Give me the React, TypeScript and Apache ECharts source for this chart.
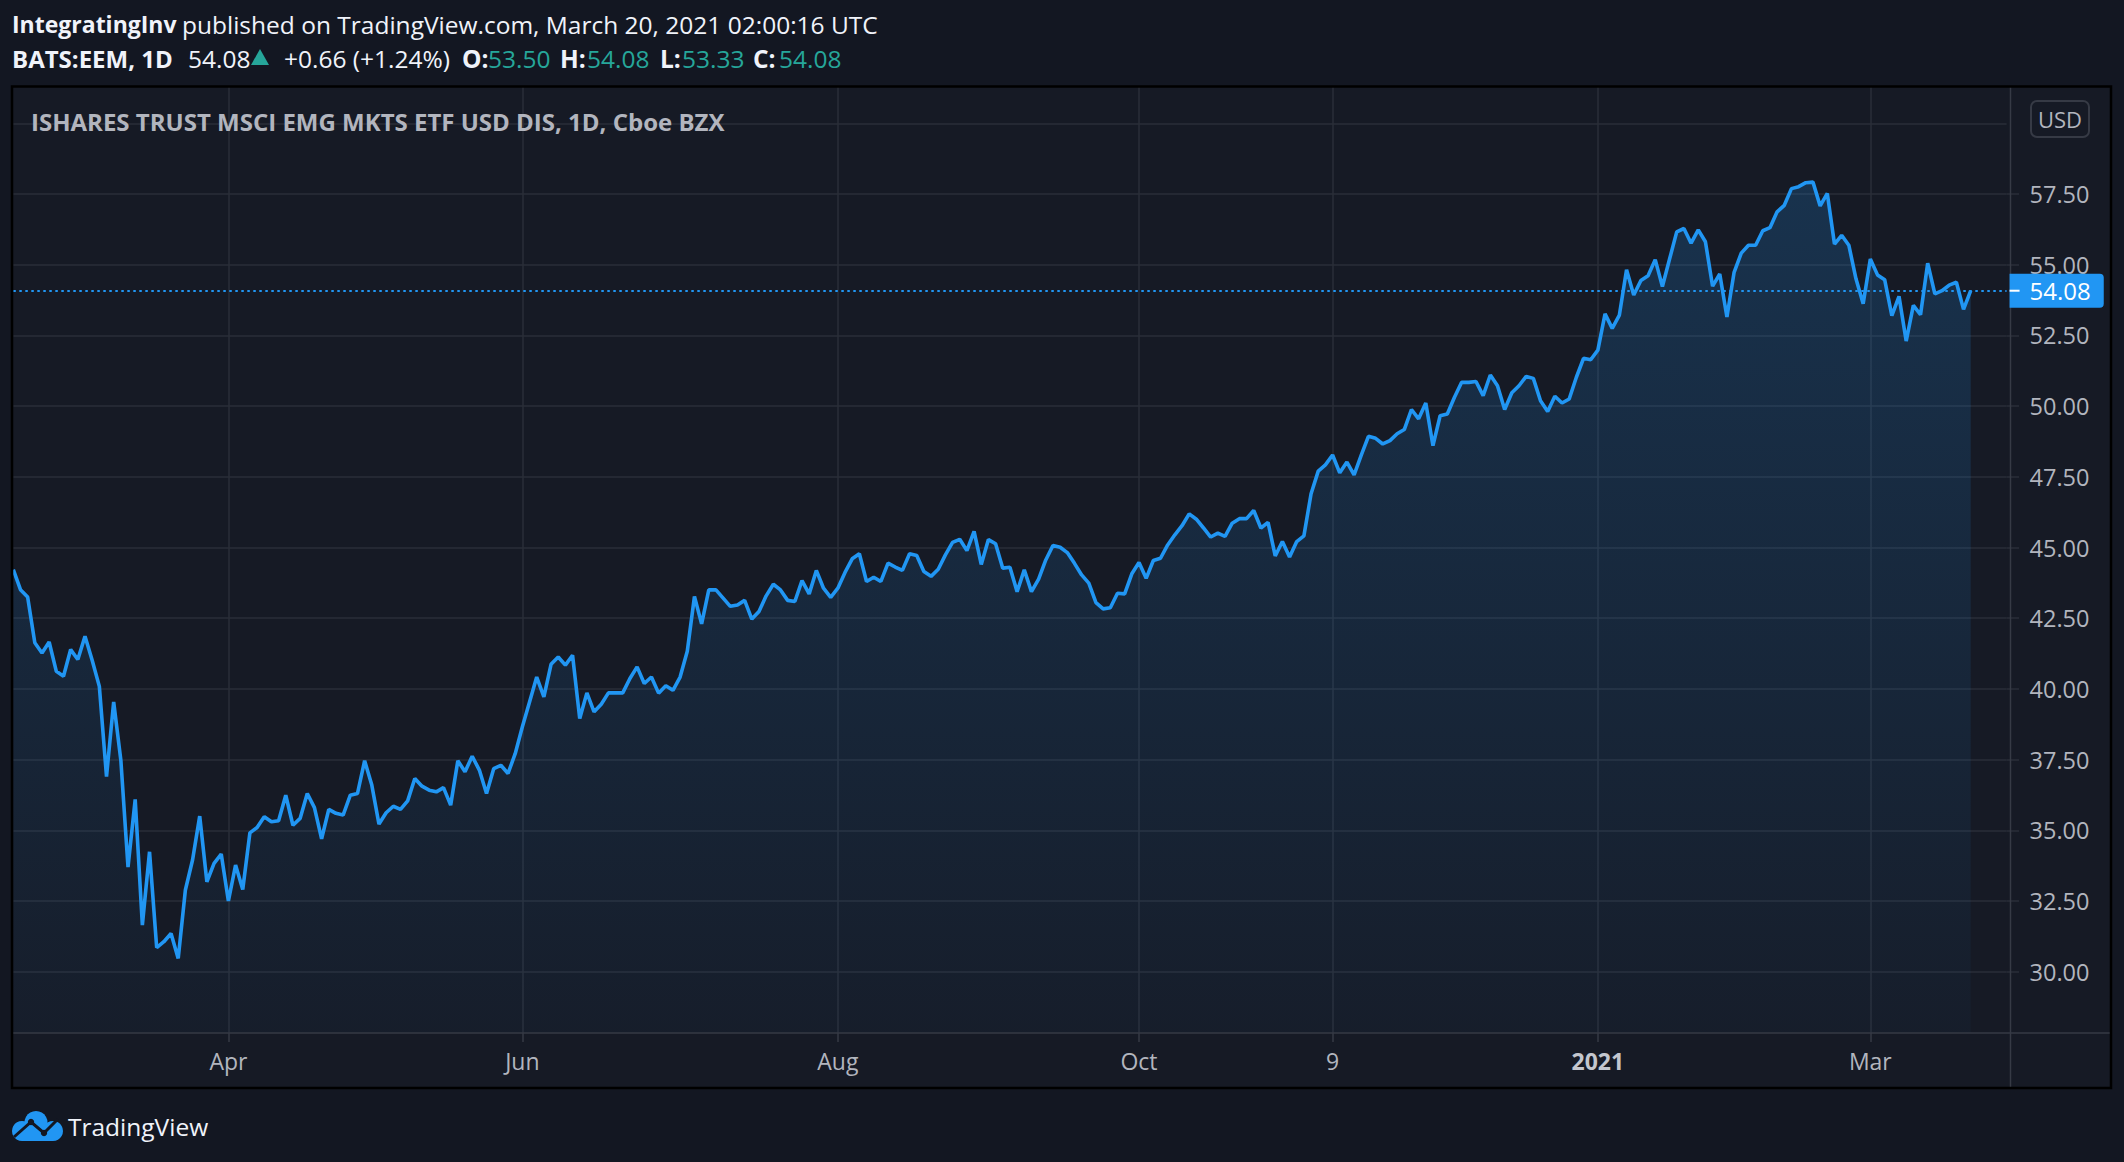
import React, { useEffect, useRef } from "react";
import * as echarts from "echarts";

// ---- data ----
const holidays = [
  "2020-04-10", "2020-05-25", "2020-07-03", "2020-09-07", "2020-11-26",
  "2020-12-25", "2021-01-01", "2021-01-18", "2021-02-15",
];
const firstDay = "2020-02-19";
const lastSlot = "2021-03-26"; // a few empty future slots on the right

const closes = [
  44.22, 43.51, 43.25, 41.63, 41.27, 41.66, 40.62, 40.45, 41.39, 41.04,
  41.86, 41.01, 40.09, 36.9, 39.54, 37.48, 33.7, 36.09, 31.65, 34.24,
  30.85, 31.06, 31.35, 30.47, 32.89, 33.95, 35.5, 33.18, 33.83, 34.16,
  32.5, 33.77, 32.91, 34.91, 35.1, 35.48, 35.3, 35.34, 36.24, 35.18,
  35.42, 36.3, 35.8, 34.7, 35.74, 35.6, 35.54, 36.24, 36.3, 37.46,
  36.6, 35.22, 35.62, 35.85, 35.74, 36.04, 36.83, 36.56, 36.42, 36.36,
  36.51, 35.89, 37.46, 37.07, 37.62, 37.13, 36.3, 37.18, 37.3, 37.01,
  37.71, 38.66, 39.54, 40.42, 39.72, 40.87, 41.13, 40.84, 41.19, 38.95,
  39.86, 39.19, 39.46, 39.86, 39.86, 39.86, 40.37, 40.78, 40.19, 40.42,
  39.85, 40.11, 39.95, 40.42, 41.33, 43.27, 42.3, 43.5, 43.5, 43.21,
  42.92, 42.97, 43.13, 42.47, 42.74, 43.29, 43.7, 43.5, 43.13, 43.09,
  43.83, 43.36, 44.19, 43.56, 43.24, 43.56, 44.12, 44.6, 44.78, 43.8,
  43.95, 43.8, 44.45, 44.31, 44.19, 44.78, 44.72, 44.15, 43.98, 44.23,
  44.74, 45.18, 45.29, 44.89, 45.57, 44.4, 45.28, 45.13, 44.27, 44.3,
  43.44, 44.21, 43.44, 43.88, 44.56, 45.07, 45.01, 44.82, 44.44, 44.03,
  43.74, 43.05, 42.83, 42.87, 43.38, 43.36, 44.07, 44.47, 43.91, 44.54,
  44.62, 45.09, 45.45, 45.77, 46.19, 46.0, 45.69, 45.37, 45.51, 45.39,
  45.86, 46.02, 46.02, 46.31, 45.69, 45.89, 44.7, 45.21, 44.66, 45.21,
  45.41, 46.9, 47.7, 47.92, 48.27, 47.64, 48.02, 47.57, 48.27, 48.93,
  48.86, 48.66, 48.78, 49.02, 49.17, 49.88, 49.55, 50.11, 48.6, 49.66,
  49.72, 50.31, 50.84, 50.84, 50.87, 50.37, 51.1, 50.72, 49.88, 50.47,
  50.72, 51.05, 50.98, 50.19, 49.81, 50.35, 50.11, 50.25, 51.02, 51.69,
  51.64, 51.98, 53.26, 52.75, 53.22, 54.82, 53.93, 54.44, 54.61, 55.18,
  54.23, 55.2, 56.16, 56.28, 55.76, 56.23, 55.81, 54.24, 54.67, 53.15,
  54.73, 55.41, 55.69, 55.69, 56.2, 56.31, 56.87, 57.1, 57.69, 57.76,
  57.9, 57.92, 57.08, 57.52, 55.73, 56.04, 55.69, 54.5, 53.62, 55.2,
  54.64, 54.47, 53.2, 53.88, 52.3, 53.56, 53.23, 55.05, 53.97, 54.08,
  54.28, 54.38, 53.42, 54.08,
];

const tickDates = ["2020-04-01", "2020-06-01", "2020-08-03", "2020-10-01", "2020-11-09", "2021-01-04", "2021-03-01"];
const tickLabels = ["Apr", "Jun", "Aug", "Oct", "9", "2021", "Mar"];

const priceMin = 30;
const priceMax = 60;
const priceStep = 2.5;
const plotFloor = 27.83; // value at the bottom edge of the pane

const author = "IntegratingInv";
const published = "published on TradingView.com, March 20, 2021 02:00:16 UTC";
const symbolName = "BATS:EEM, 1D";
const lastText = "54.08";
const changeText = "+0.66 (+1.24%)";
const ohlcKeys = ["O:", "H:", "L:", "C:"];
const ohlcVals = ["53.50", "54.08", "53.33", "54.08"];
const paneTitle = "ISHARES TRUST MSCI EMG MKTS ETF USD DIS, 1D, Cboe BZX";

function buildDays(start: string, end: string, skip: string[]): string[] {
  const out: string[] = [];
  const d = new Date(start + "T00:00:00Z");
  const e = new Date(end + "T00:00:00Z");
  while (d <= e) {
    const wd = d.getUTCDay();
    const s = d.toISOString().slice(0, 10);
    if (wd !== 0 && wd !== 6 && skip.indexOf(s) < 0) out.push(s);
    d.setUTCDate(d.getUTCDate() + 1);
  }
  return out;
}

const categories = buildDays(firstDay, lastSlot, holidays);

// ---- styling ----
const FONT = '"Open Sans", "Noto Sans", sans-serif';
const BG = "#131722";
const PANE = "#161a25";
const GRID = "#2a2e39";
const SEP = "#363a45";
const TXT = "#b2b5be";
const WHITE = "#f0f3fa";
const BLUE = "#2196f3";
const TEAL = "#26a69a";
const HF = 24.5; // header font size

const barStep = 7.17;
const gridLeft = 13.3;
const gridWidth = (categories.length - 1) * barStep;
const paneTop = 87;
const paneBottom = 1033;
const priceTop = 123.3;
const priceBottom = 971.7;

function txt(x: number, y: number, text: string, fill: string, bold = false, size = HF): any {
  return {
    type: "text", x, y, z: 10, silent: true,
    style: { text, fill, fontSize: size, fontWeight: bold ? "bold" : "normal", fontFamily: FONT, verticalAlign: "middle" },
  };
}

export default function App() {
  const ref = useRef<HTMLDivElement>(null);

  useEffect(() => {
    if (!ref.current) return;
    const chart = echarts.init(ref.current, null, { renderer: "svg" });
    const last = closes[closes.length - 1];
    const isTick = (_i: number, v: string) => tickDates.indexOf(v) >= 0;

    const ohlcKeyX = [462, 560, 660, 753];
    const ohlcValX = [488, 587, 682, 779];
    const headerEls: any[] = [
      txt(12, 24, author, WHITE, true, 23),
      txt(182, 24, published, WHITE),
      txt(12, 58, symbolName, WHITE, true, 24),
      txt(188, 58, lastText, WHITE),
      { type: "polygon", z: 10, silent: true, shape: { points: [[251, 65], [269, 65], [260, 49]] }, style: { fill: TEAL } },
      txt(284, 58, changeText, WHITE),
    ];
    ohlcKeys.forEach((k, i) => {
      headerEls.push(txt(ohlcKeyX[i], 58, k, WHITE, true));
      headerEls.push(txt(ohlcValX[i], 58, ohlcVals[i], TEAL));
    });

    const option: any = {
      animation: false,
      backgroundColor: BG,
      textStyle: { fontFamily: FONT },
      grid: [
        { left: gridLeft, top: paneTop, width: gridWidth, height: paneBottom - paneTop, containLabel: false },
        { left: gridLeft, top: priceTop, width: gridWidth, height: priceBottom - priceTop, containLabel: false },
      ],
      xAxis: [
        {
          type: "category",
          gridIndex: 0,
          data: categories,
          boundaryGap: false,
          axisLine: { show: false },
          axisTick: { show: true, interval: isTick, length: 9, lineStyle: { color: SEP, width: 1.5 } },
          splitLine: { show: true, interval: isTick, lineStyle: { color: GRID, width: 1.5 } },
          axisLabel: {
            interval: isTick,
            margin: 16,
            color: TXT,
            fontSize: 23,
            fontFamily: FONT,
            formatter: (v: string) => {
              const k = tickDates.indexOf(v);
              const t = k >= 0 ? tickLabels[k] : "";
              return /^\d{4}$/.test(t) ? "{y|" + t + "}" : t;
            },
            rich: { y: { fontWeight: "bold", fontSize: 23, color: "#c3c6ce", fontFamily: FONT } },
          },
          z: 1,
        },
        {
          type: "category",
          gridIndex: 1,
          data: categories,
          boundaryGap: false,
          show: false,
        },
      ],
      yAxis: [
        { type: "value", gridIndex: 0, min: 0, max: 1, show: false, splitLine: { show: false } },
        {
          type: "value",
          gridIndex: 1,
          position: "right",
          min: priceMin,
          max: priceMax,
          interval: priceStep,
          axisLine: { show: false },
          axisTick: { show: true, length: 12.5, lineStyle: { color: GRID, width: 1.5 } },
          splitLine: { show: true, lineStyle: { color: GRID, width: 1.5 } },
          axisLabel: {
            showMaxLabel: false,
            margin: 23,
            color: TXT,
            fontSize: 23.5,
            lineHeight: 17,
            fontFamily: FONT,
            formatter: (v: number) => v.toFixed(2),
          },
        },
      ],
      series: [
        {
          type: "line",
          xAxisIndex: 1,
          yAxisIndex: 1,
          data: closes,
          showSymbol: false,
          symbol: "none",
          clip: false,
          lineStyle: { color: BLUE, width: 3.6 },
          areaStyle: {
            origin: plotFloor,
            color: new echarts.graphic.LinearGradient(0, 0, 0, 1, [
              { offset: 0, color: "rgba(33,150,243,0.28)" },
              { offset: 1, color: "rgba(33,150,243,0.04)" },
            ]),
          },
          z: 3,
          markLine: {
            silent: true,
            symbol: ["none", "none"],
            lineStyle: { color: BLUE, type: [2.5, 3.5], width: 2 },
            data: [{ yAxis: last }],
            label: {
              show: true,
              position: "end",
              distance: 3,
              formatter: "{t| }{v|" + last.toFixed(2) + "}",
              backgroundColor: BLUE,
              borderRadius: [0, 4, 4, 0],
              padding: [5, 13, 5, 0],
              rich: {
                t: { width: 10, height: 2, backgroundColor: "#ffffff", fontSize: 2 },
                v: { color: "#ffffff", fontSize: 24, lineHeight: 24, fontFamily: FONT, padding: [0, 0, 0, 10] },
              },
            },
          },
        },
      ],
      graphic: [
        { type: "rect", z: -10, silent: true, shape: { x: 12, y: 87, width: 2098, height: 1000 }, style: { fill: PANE } },
        { type: "line", z: 5, silent: true, shape: { x1: 13, y1: 1033, x2: 2110, y2: 1033 }, style: { stroke: SEP, lineWidth: 1.5 } },
        { type: "line", z: 5, silent: true, shape: { x1: 2010.5, y1: 87, x2: 2010.5, y2: 1087 }, style: { stroke: SEP, lineWidth: 1.5 } },
        { type: "rect", z: 60, silent: true, shape: { x: 12, y: 86.5, width: 2099, height: 1001.5 }, style: { fill: "none", stroke: "#000000", lineWidth: 2.5 } },
        ...headerEls,
        txt(31, 121.5, paneTitle, TXT, true, 24),
        // currency box
        { type: "rect", z: 10, silent: true, shape: { x: 2031, y: 101, width: 58, height: 36, r: 6 }, style: { fill: "none", stroke: SEP, lineWidth: 2 } },
        { type: "text", x: 2060, y: 119, z: 11, silent: true, style: { text: "USD", fill: TXT, fontSize: 22, fontFamily: FONT, align: "center", verticalAlign: "middle" } },
        // logo
        { type: "circle", z: 10, silent: true, shape: { cx: 22, cy: 1131, r: 10 }, style: { fill: BLUE } },
        { type: "circle", z: 10, silent: true, shape: { cx: 36, cy: 1122.5, r: 11.5 }, style: { fill: BLUE } },
        { type: "circle", z: 10, silent: true, shape: { cx: 53, cy: 1131, r: 10 }, style: { fill: BLUE } },
        { type: "rect", z: 10, silent: true, shape: { x: 22, y: 1127, width: 31, height: 14 }, style: { fill: BLUE } },
        { type: "polyline", z: 11, silent: true, shape: { points: [[14, 1137], [31, 1122], [44, 1133], [58, 1119]] }, style: { stroke: BG, lineWidth: 3, fill: "none" } },
        { type: "circle", z: 12, silent: true, shape: { cx: 31, cy: 1122, r: 3.2 }, style: { fill: BG } },
        { type: "circle", z: 12, silent: true, shape: { cx: 44, cy: 1133, r: 3.2 }, style: { fill: BG } },
        txt(68, 1126, "TradingView", WHITE, false, 24.5),
      ],
    };

    chart.setOption(option);
    return () => chart.dispose();
  }, []);

  return (
    <div
      ref={ref}
      style={{ position: "fixed", left: 0, top: 0, width: 2124, height: 1162 }}
    />
  );
}
